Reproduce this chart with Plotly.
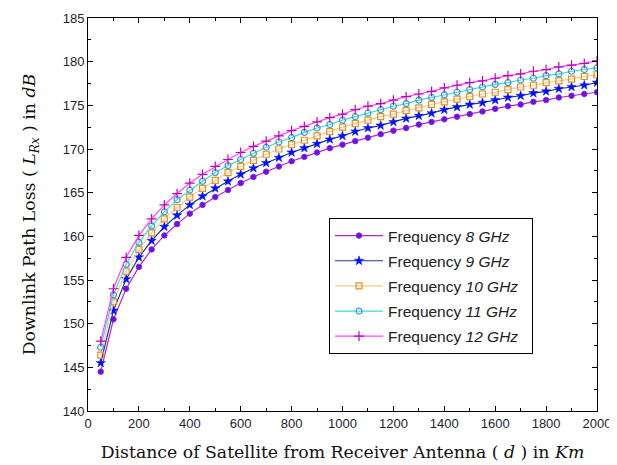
import plotly.graph_objects as go

distance_km = [50, 100, 150, 200, 250, 300, 350, 400, 450, 500,
               550, 600, 650, 700, 750, 800, 850, 900, 950, 1000,
               1050, 1100, 1150, 1200, 1250, 1300, 1350, 1400, 1450, 1500,
               1550, 1600, 1650, 1700, 1750, 1800, 1850, 1900, 1950, 2000]

loss_8ghz = [144.5, 150.5, 154.0, 156.5, 158.5, 160.1, 161.4, 162.6, 163.6, 164.5,
             165.3, 166.1, 166.8, 167.4, 168.0, 168.6, 169.1, 169.6, 170.1, 170.5,
             170.9, 171.3, 171.7, 172.1, 172.4, 172.8, 173.1, 173.4, 173.7, 174.0,
             174.3, 174.6, 174.9, 175.1, 175.4, 175.6, 175.9, 176.1, 176.3, 176.5]
loss_9ghz = [145.5, 151.5, 155.1, 157.6, 159.5, 161.1, 162.4, 163.6, 164.6, 165.5,
             166.3, 167.1, 167.8, 168.4, 169.0, 169.6, 170.1, 170.6, 171.1, 171.5,
             172.0, 172.4, 172.7, 173.1, 173.5, 173.8, 174.1, 174.5, 174.8, 175.1,
             175.3, 175.6, 175.9, 176.1, 176.4, 176.6, 176.9, 177.1, 177.3, 177.6]
loss_10ghz = [146.4, 152.5, 156.0, 158.5, 160.4, 162.0, 163.3, 164.5, 165.5, 166.4,
              167.3, 168.0, 168.7, 169.4, 170.0, 170.5, 171.0, 171.5, 172.0, 172.5,
              172.9, 173.3, 173.7, 174.0, 174.4, 174.7, 175.1, 175.4, 175.7, 176.0,
              176.3, 176.5, 176.8, 177.1, 177.3, 177.6, 177.8, 178.0, 178.3, 178.5]
loss_11ghz = [147.3, 153.3, 156.8, 159.3, 161.2, 162.8, 164.2, 165.3, 166.3, 167.3,
              168.1, 168.8, 169.5, 170.2, 170.8, 171.3, 171.9, 172.4, 172.8, 173.3,
              173.7, 174.1, 174.5, 174.9, 175.2, 175.6, 175.9, 176.2, 176.5, 176.8,
              177.1, 177.4, 177.6, 177.9, 178.1, 178.4, 178.6, 178.9, 179.1, 179.3]
loss_12ghz = [148.0, 154.0, 157.6, 160.1, 162.0, 163.6, 164.9, 166.1, 167.1, 168.0,
              168.8, 169.6, 170.3, 170.9, 171.5, 172.1, 172.6, 173.1, 173.6, 174.0,
              174.5, 174.9, 175.2, 175.6, 176.0, 176.3, 176.6, 177.0, 177.3, 177.6,
              177.8, 178.1, 178.4, 178.6, 178.9, 179.1, 179.4, 179.6, 179.8, 180.1]

series_names = ["Frequency <i>8 GHz</i>", "Frequency <i>9 GHz</i>",
                "Frequency <i>10 GHz</i>", "Frequency <i>11 GHz</i>",
                "Frequency <i>12 GHz</i>"]
series_values = [loss_8ghz, loss_9ghz, loss_10ghz, loss_11ghz, loss_12ghz]

styles = [
    dict(line="#B828C0", symbol="circle", msize=5.5, mfill="#8A00D8", mline="#5A3CF0", mlw=1),
    dict(line="#23309A", symbol="star", msize=7, mfill="#0010FF", mline="#0010FF", mlw=0.5),
    dict(line="#F6C98E", symbol="square-open", msize=6, mfill="#E8901C", mline="#E8901C", mlw=1.2),
    dict(line="#3DD8D8", symbol="circle-open", msize=6, mfill="#3A9CCF", mline="#3A9CCF", mlw=1.2),
    dict(line="#FF45FF", symbol="cross-thin-open", msize=7, mfill="#C000C0", mline="#C000C0", mlw=1.2),
]

fig = go.Figure()
for i, (name, vals, st) in enumerate(zip(series_names, series_values, styles)):
    fig.add_trace(go.Scatter(
        x=distance_km, y=vals, name=name + "\u00a0\u00a0", mode="lines+markers",
        legendgroup=f"g{i}",
        line=dict(color=st["line"], width=1.2),
        marker=dict(symbol=st["symbol"], size=st["msize"], color=st["mfill"],
                    line=dict(color=st["mline"], width=st["mlw"])),
    ))

axis_common = dict(
    showline=True, linecolor="black", linewidth=1, mirror="allticks",
    ticks="inside", ticklen=5, tickcolor="black", showgrid=False, zeroline=False,
    automargin=False,
    tickfont=dict(family="Liberation Sans, Arial", size=13, color="#1E1E30"),
)

fig.update_xaxes(
    range=[0, 2000], tickmode="linear", tick0=0, dtick=200,
    minor=dict(ticks="inside", ticklen=3, dtick=100, tickcolor="black"),
    title=dict(text="Distance of Satellite from Receiver Antenna ( <i>d</i> ) in <i>Km</i>",
               font=dict(family="DejaVu Serif", size=17.3, color="#111"), standoff=16),
    **axis_common,
)
fig.update_yaxes(
    range=[140, 185], tickmode="linear", tick0=140, dtick=5,
    minor=dict(ticks="inside", ticklen=3, dtick=2.5, tickcolor="black"),
    title=dict(text="Downlink Path Loss ( <i>L<sub>Rx</sub></i> ) in <i>dB</i>",
               font=dict(family="DejaVu Serif", size=17.3, color="#111"), standoff=22),
    **axis_common,
)

# the page body adds an 8px offset, so the figure is sized to fit the window
fig.update_layout(
    width=609, height=457,
    margin=dict(l=80, r=20, t=10, b=54),
    paper_bgcolor="white", plot_bgcolor="white",
    showlegend=True,
    legend=dict(
        x=0.4735, y=0.491, xanchor="left", yanchor="top",
        bgcolor="white", bordercolor="black", borderwidth=1,
        font=dict(family="Liberation Sans, Arial", size=15.5, color="#222"),
        traceorder="grouped", tracegroupgap=2, itemwidth=48,
    ),
)

fig.write_html("out.html")
